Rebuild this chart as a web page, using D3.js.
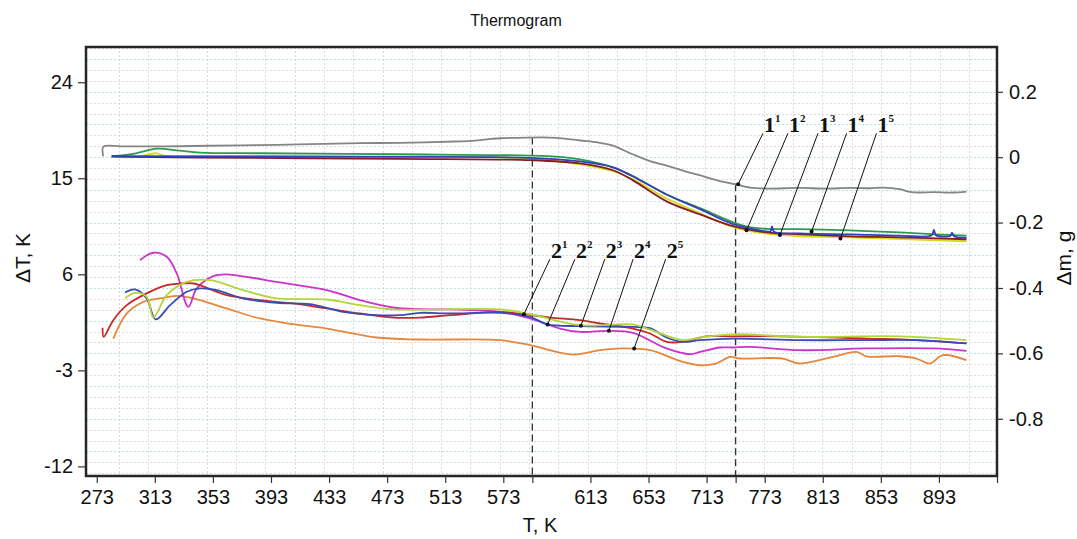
<!DOCTYPE html>
<html><head><meta charset="utf-8">
<script src="https://cdn.jsdelivr.net/npm/d3@7"></script>
<style>
html,body{margin:0;padding:0;background:#fff;}
svg{display:block;}
text{font-family:"Liberation Sans",Arial,sans-serif;fill:#111;}
</style></head>
<body>
<svg id="chart" width="1077" height="539"></svg>
<script>
// ---------------- DATA ----------------
const title = "Thermogram";
const xTitle = "T, K";
const yLeftTitle = "\u0394T, K";
const yRightTitle = "\u0394m, g";

// x axis (temperature, K): tick positions and their printed labels
const xTickValues = [273,313,353,393,433,473,513,553,573,613,653,693,713,733,773,813,853,893];
const xTickLabels = ["273","313","353","393","433","473","513","573","","613","653","713","","773","813","853","893",""];
const yLeftTicks = [24,15,6,-3,-12];
const yRightTicks = [0.2,0,-0.2,-0.4,-0.6,-0.8];
const dashedTemps = [573, 713];

// mass curves (right axis, Δm in g) : [T, Δm]
const mass1 = [[277.5,0.003],[277.6,0.032],[290,0.033],[320,0.033],[350,0.035],[385,0.037],[420,0.040],[454,0.043],[482,0.044],[520,0.048],[532,0.050],[545,0.056],[551,0.058],[570,0.060],[585,0.060],[595,0.057],[606,0.051],[618,0.045],[628,0.036],[642,0.009],[654,-0.012],[665,-0.025],[682,-0.048],[688,-0.055],[702,-0.073],[712,-0.082],[723,-0.093],[735,-0.096],[757,-0.094],[775,-0.096],[792,-0.094],[805,-0.095],[815,-0.093],[826,-0.098],[834,-0.107],[850,-0.107],[862,-0.108],[872,-0.105]];
const mass2 = [[283.3,0.003],[300,0.012],[314.3,0.026],[330,0.020],[344.1,0.014],[385.4,0.012],[481.8,0.009],[571.4,0.005],[592,0.001],[605.8,-0.007],[619.6,-0.020],[628.5,-0.031],[642.3,-0.058],[665.4,-0.114],[688.5,-0.156],[711.3,-0.199],[722.8,-0.214],[734.3,-0.219],[757.1,-0.220],[791.5,-0.224],[826,-0.230],[850,-0.236],[872,-0.240]];
const mass3 = [[283.3,0.002],[344.1,-0.001],[481.8,-0.005],[571.4,-0.009],[605.8,-0.019],[628.5,-0.040],[642.3,-0.071],[665.4,-0.135],[688.5,-0.175],[711.3,-0.211],[734.3,-0.230],[757.1,-0.236],[791.5,-0.242],[826,-0.245],[872,-0.251]];
const mass4 = [[283.3,0.003],[481.8,0.001],[571.4,-0.002],[605.8,-0.013],[628.5,-0.031],[642.3,-0.059],[665.4,-0.114],[688.5,-0.159],[711.3,-0.205],[734.3,-0.227],[737,-0.227],[738,-0.212],[739.5,-0.228],[757.1,-0.233],[791.5,-0.236],[826,-0.240],[848,-0.239],[849.5,-0.222],[851,-0.239],[861,-0.240],[862,-0.231],[863.5,-0.242],[872,-0.246]];
const mass5 = [[283.3,0.002],[300,0.000],[314,0.012],[320,0.004],[344,0.002],[481.8,0.002],[571.4,-0.004],[605.8,-0.022],[628.5,-0.043],[642.3,-0.068],[665.4,-0.126],[688.5,-0.172],[711.3,-0.214],[734.3,-0.234],[757.1,-0.242],[791.5,-0.245],[872,-0.257]];

// DTA curves (left axis, ΔT in K) : [T, ΔT]
const dta1 = [[277,1.0],[277.8,0.13],[284.4,1.70],[293.7,3.11],[307.4,4.21],[321.2,4.98],[330.4,5.14],[340,5.14],[344.1,4.98],[362.5,4.05],[385.4,3.58],[408.2,3.27],[431.4,2.80],[454.3,2.33],[477,1.95],[495.6,1.95],[516.3,2.17],[550.7,2.48],[567.2,2.26],[585,1.95],[605.8,1.70],[619.6,1.39],[642.3,0.92],[654,0.45],[665.4,-0.33],[676.6,-0.33],[693,0.19],[711.3,0.19],[745.5,0.19],[803.1,-0.02],[837.6,-0.17],[872,-0.48]];
const dta2 = [[292.5,4.30],[299.4,4.58],[307.4,3.74],[313.6,1.77],[323.5,3.11],[335,4.36],[344.1,4.68],[355.6,4.52],[373.7,3.74],[396.9,3.32],[419.9,3.20],[442.6,2.48],[465.8,2.17],[481.8,2.17],[495.6,2.39],[516.3,2.33],[550.7,2.39],[571.4,2.01],[583.5,1.30],[605.8,1.14],[642.3,1.07],[654,0.95],[665.4,0.08],[676.6,-0.33],[688.5,-0.17],[711.3,-0.02],[757.1,-0.17],[803.1,-0.17],[837.6,-0.17],[872,-0.48]];
const dta3 = [[292.5,3.74],[299.4,4.26],[307.4,3.89],[312,1.95],[321.2,4.05],[335,5.29],[351,5.45],[373.7,4.52],[396.9,3.74],[431.4,3.64],[454.3,3.11],[477,2.71],[550.7,2.71],[571.4,2.26],[605.8,1.23],[642.3,1.30],[654,0.82],[676.6,-0.17],[688.5,0.08],[711.3,0.38],[757.1,0.13],[826,0.19],[872,-0.17]];
const dta4 = [[302.8,7.33],[312,8.02],[321.2,7.64],[328.1,6.08],[336.1,2.95],[341.9,4.68],[353.3,5.83],[362.5,5.99],[376.3,5.76],[396.9,5.29],[431.4,4.52],[454.3,3.58],[477,2.89],[495.6,2.73],[516.3,2.71],[550.7,2.48],[571.4,1.86],[592,0.92],[605.8,0.60],[625.8,0.70],[642.3,0.51],[665.4,-0.95],[681.6,-1.49],[688.5,-1.27],[702.3,-0.86],[711.3,-0.86],[722.8,-0.80],[757.1,-1.11],[803.1,-0.95],[848.8,-0.95],[872,-1.18]];
const dta5 = [[284.4,-0.02],[293.7,2.33],[305.1,3.42],[316.6,3.74],[328.1,3.98],[339.5,3.74],[362.5,2.80],[385.4,1.86],[408.2,1.33],[431.4,0.92],[465.8,0.08],[495.6,-0.11],[550.7,-0.17],[571.4,-0.64],[601,-1.52],[619.6,-1.11],[634.7,-0.95],[654,-1.11],[676.6,-2.21],[688.5,-2.52],[699.4,-2.36],[709.2,-1.74],[716,-1.89],[745,-1.89],[757.1,-2.36],[779.8,-1.74],[796.2,-1.27],[803,-1.68],[826,-1.68],[837.6,-1.89],[846.7,-2.36],[855.7,-1.58],[872,-2.05]];

// curve annotations: label, leader top [T, value], pointed point [T, value]
const massLabels = ["1","1","1","1","1"];
const massSup = ["1","2","3","4","5"];
const massLeaderTop = [[731.8,0.073],[749.0,0.073],[769.7,0.073],[789.4,0.073],[810.0,0.073]];
const massLeaderEnd = [[714.7,-0.083],[720.5,-0.2235],[743.5,-0.238],[765.3,-0.2275],[785.2,-0.249]];
const dtaLabels = ["2","2","2","2","2"];
const dtaSup = ["1","2","3","4","5"];
const dtaLeaderTop = [[585.1,7.42],[602.3,7.42],[622.9,7.42],[642.4,7.42],[664.8,7.42]];
const dtaLeaderEnd = [[567.2,2.26],[583.5,1.30],[606.4,1.17],[625.7,0.70],[643.1,-0.95]];

// ---------------- CHART ----------------
const svg = d3.select("#chart");
const L = 86, R = 997, T = 47, B = 476;

const x = d3.scaleLinear().domain([265.6, 893]).range([L, R]);
const yL = d3.scaleLinear().domain([-12.9, 27.3]).range([B, T]);
const yR = d3.scaleLinear().domain([-0.975, 0.337]).range([B, T]);
const hyphen = s => String(s).replace("\u2212","-");

svg.append("rect").attr("x",L).attr("y",T).attr("width",R-L).attr("height",B-T).attr("fill","#fff");

// grid
const g = svg.append("g");
const vGrid = d3.range(288, 893, 20.2);
g.selectAll("line.v").data(vGrid).join("line")
  .attr("x1",d=>Math.round(x(d))+0.5).attr("x2",d=>Math.round(x(d))+0.5).attr("y1",T).attr("y2",B)
  .attr("stroke","#dadada").attr("stroke-width",1).attr("stroke-dasharray","2,2");
const hGrid = d3.range(-29, 11);
g.selectAll("line.h").data(hGrid).join("line")
  .attr("x1",L).attr("x2",R).attr("y1",d=>Math.round(yR(d/30))+0.5).attr("y2",d=>Math.round(yR(d/30))+0.5)
  .attr("stroke",d=> d%3===0 ? "#b5e2e4" : "#dadada").attr("stroke-width",1).attr("stroke-dasharray","2,2");

// dashed temperature markers
const massAt = (arr,t)=>{ for(let i=1;i<arr.length;i++){ if(arr[i][0]>=t){const a=arr[i-1],b=arr[i];return a[1]+(b[1]-a[1])*(t-a[0])/(b[0]-a[0]);}} return arr[arr.length-1][1]; };
svg.selectAll("line.dash").data(dashedTemps).join("line")
  .attr("x1",d=>x(d)).attr("x2",d=>x(d)).attr("y1",d=>yR(massAt(mass1,d))).attr("y2",B)
  .attr("stroke","#333").attr("stroke-width",1.3).attr("stroke-dasharray","7,4");

// curves
const lineR = d3.line().x(d=>x(d[0])).y(d=>yR(d[1])).curve(d3.curveCatmullRom.alpha(0.5));
const lineL = d3.line().x(d=>x(d[0])).y(d=>yL(d[1])).curve(d3.curveCatmullRom.alpha(0.5));
const massSeries = [
  {d:mass1,c:"#858585"},
  {d:mass5,c:"#d4dc1e"},
  {d:mass2,c:"#2e9a4e"},
  {d:mass3,c:"#861c24"},
  {d:mass4,c:"#3340b8"}
];
const dtaSeries = [
  {d:dta5,c:"#e8873c"},
  {d:dta4,c:"#cc33cc"},
  {d:dta1,c:"#c42a2a"},
  {d:dta2,c:"#3b4bb5"},
  {d:dta3,c:"#b3d53d"}
];
svg.selectAll("path.m").data(massSeries).join("path")
  .attr("d",s=>lineR(s.d)).attr("fill","none").attr("stroke",s=>s.c).attr("stroke-width",1.8);
svg.selectAll("path.t").data(dtaSeries).join("path")
  .attr("d",s=>lineL(s.d)).attr("fill","none").attr("stroke",s=>s.c).attr("stroke-width",1.8);

// annotations
function annot(labels, sups, tops, ends, ys){
  const ga = svg.append("g");
  labels.forEach((lab,i)=>{
    const x1 = x(tops[i][0]), y1 = ys(tops[i][1]);
    const x2 = x(ends[i][0]), y2 = ys(ends[i][1]);
    ga.append("line").attr("x1",x1).attr("y1",y1).attr("x2",x2).attr("y2",y2)
      .attr("stroke","#111").attr("stroke-width",1);
    ga.append("circle").attr("cx",x2).attr("cy",y2).attr("r",2).attr("fill","#111");
    const t = ga.append("text").attr("x",x1+1).attr("y",y1-1)
      .style("font-family","'Liberation Serif','Times New Roman',serif").style("font-weight","bold").style("font-size","22px");
    t.append("tspan").text(lab);
    t.append("tspan").attr("dy",-10).style("font-size","11px").text(sups[i]);
  });
}
annot(massLabels, massSup, massLeaderTop, massLeaderEnd, yR);
annot(dtaLabels, dtaSup, dtaLeaderTop, dtaLeaderEnd, yL);

// frame
svg.append("rect").attr("x",L).attr("y",T).attr("width",R-L).attr("height",B-T)
  .attr("fill","none").attr("stroke","#262626").attr("stroke-width",2.5);

// axes
const fs = "20px";
const ax = svg.append("g").attr("transform",`translate(0,${B})`)
  .call(d3.axisBottom(x).tickValues(xTickValues).tickFormat((d,i)=>xTickLabels[i]).tickSize(7).tickPadding(7));
const ayl = svg.append("g").attr("transform",`translate(${L},0)`)
  .call(d3.axisLeft(yL).tickValues(yLeftTicks).tickFormat(d=>hyphen(d3.format("d")(d))).tickSize(8).tickPadding(5));
const ayr = svg.append("g").attr("transform",`translate(${R},0)`)
  .call(d3.axisRight(yR).tickValues(yRightTicks).tickFormat(d=> d===0 ? "0" : hyphen(d3.format(".1f")(d))).tickSize(6).tickPadding(6));
[ax,ayl,ayr].forEach(a=>{
  a.select(".domain").remove();
  a.selectAll(".tick line").attr("stroke","#333").attr("stroke-width",1.2);
  a.selectAll(".tick text").style("font-family","'Liberation Sans',Arial,sans-serif").style("font-size",fs).attr("fill","#111");
});

// titles
svg.append("text").attr("x",516).attr("y",26).attr("text-anchor","middle").style("font-size","16px").text(title);
svg.append("text").attr("x",540).attr("y",532).attr("text-anchor","middle").style("font-size","20px").text(xTitle);
svg.append("text").attr("transform","translate(30,258) rotate(-90)").attr("text-anchor","middle").style("font-size","21px").text(yLeftTitle);
svg.append("text").attr("transform","translate(1071,258) rotate(-90)").attr("text-anchor","middle").style("font-size","21px").text(yRightTitle);
</script>
</body></html>
